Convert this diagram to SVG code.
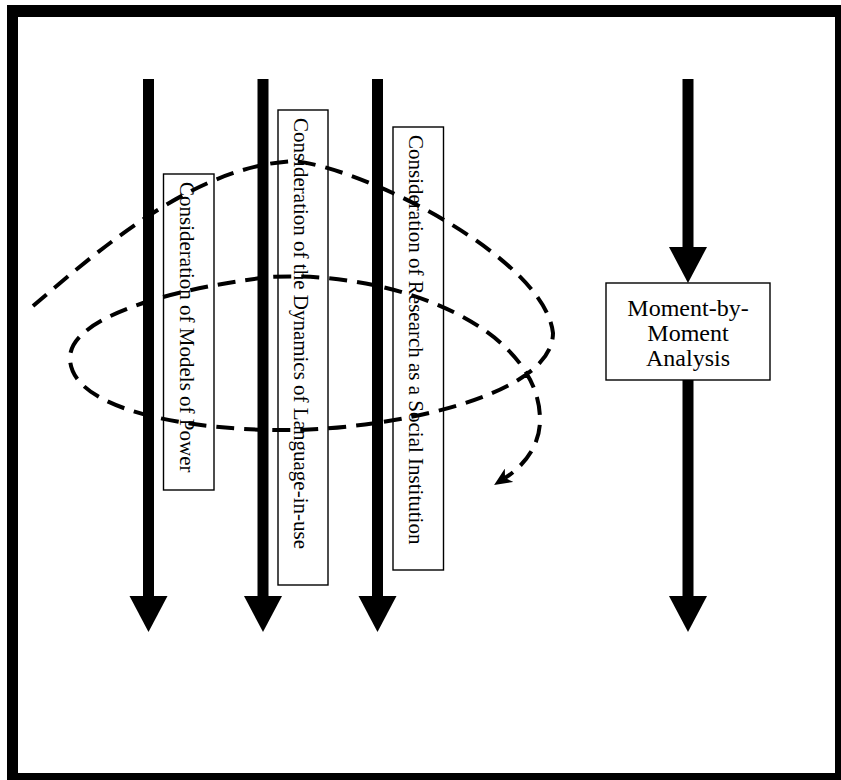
<svg xmlns="http://www.w3.org/2000/svg" width="841" height="780" viewBox="0 0 841 780">
  <style>
    .frame { fill: #000; fill-rule: evenodd; }
    .shaft { fill: #000; }
    .head { fill: #000; }
    .box { fill: #fff; stroke: #000; stroke-width: 1.4; }
    .vlabel { font-family: "Liberation Serif", "Times New Roman", serif; font-size: 21px; fill: #000; }
    .label { font-family: "Liberation Serif", "Times New Roman", serif; font-size: 24px; fill: #000; text-anchor: middle; }
    .spiral { fill: none; stroke: #000; stroke-width: 4; stroke-dasharray: 18 10; }
  </style>
  <defs>
    <marker id="dash-head" viewBox="0 0 18 16" refX="5" refY="8" markerWidth="18" markerHeight="16" markerUnits="userSpaceOnUse" orient="auto">
      <path d="M0,0 L18,8 L0,16 L5,8 Z" fill="#000"/>
    </marker>
  </defs>

  <rect width="841" height="780" fill="#fff"/>
  <!-- heavy outer border -->
  <path class="frame" d="M7,5 H841 V780 H7 Z M18,17 V773 H835 V17 Z"/>

  <!-- text boxes -->
  <g id="models-of-power">
    <rect class="box" x="163.5" y="174" width="50.5" height="316"/>
    <text class="vlabel" transform="translate(180,182) rotate(90)">Consideration of Models of Power</text>
  </g>
  <g id="dynamics-of-language">
    <rect class="box" x="278" y="110" width="50" height="475"/>
    <text class="vlabel" transform="translate(294,118) rotate(90)">Consideration of the Dynamics of Language-in-use</text>
  </g>
  <g id="research-as-institution">
    <rect class="box" x="393" y="127" width="50.5" height="443"/>
    <text class="vlabel" transform="translate(409,135) rotate(90)">Consideration of Research as a Social Institution</text>
  </g>
  <g id="moment-analysis">
    <rect class="box" x="606" y="283" width="164" height="97"/>
    <text class="label" x="688" y="316">Moment-by-</text>
    <text class="label" x="688" y="341">Moment</text>
    <text class="label" x="688" y="366">Analysis</text>
  </g>

  <g id="connectors">
    <!-- vertical arrows -->
    <rect class="shaft" x="143" y="79" width="11" height="518"/>
    <polygon class="head" points="129.5,596 167.5,596 148.5,632"/>

    <rect class="shaft" x="257.5" y="79" width="11" height="518"/>
    <polygon class="head" points="244,596 282,596 263,632"/>

    <rect class="shaft" x="372" y="79" width="11" height="518"/>
    <polygon class="head" points="358.5,596 396.5,596 377.5,632"/>

    <rect class="shaft" x="682.5" y="79" width="11" height="169"/>
    <polygon class="head" points="669,247 707,247 688,283"/>
    <rect class="shaft" x="682.5" y="380" width="11" height="217"/>
    <polygon class="head" points="669,596 707,596 688,632"/>

    <!-- dashed spiral -->
    <path class="spiral" marker-end="url(#dash-head)"
      d="M33,306 C110,240 200,165 295,161
         C370,170 545,260 553,333
         C553,390 420,425 300,430
         C190,432 70,410 70,358
         C70,320 160,290 270,277
         C400,270 540,330 540,420
         C540,445 525,465 505,478"/>
  </g>
</svg>
